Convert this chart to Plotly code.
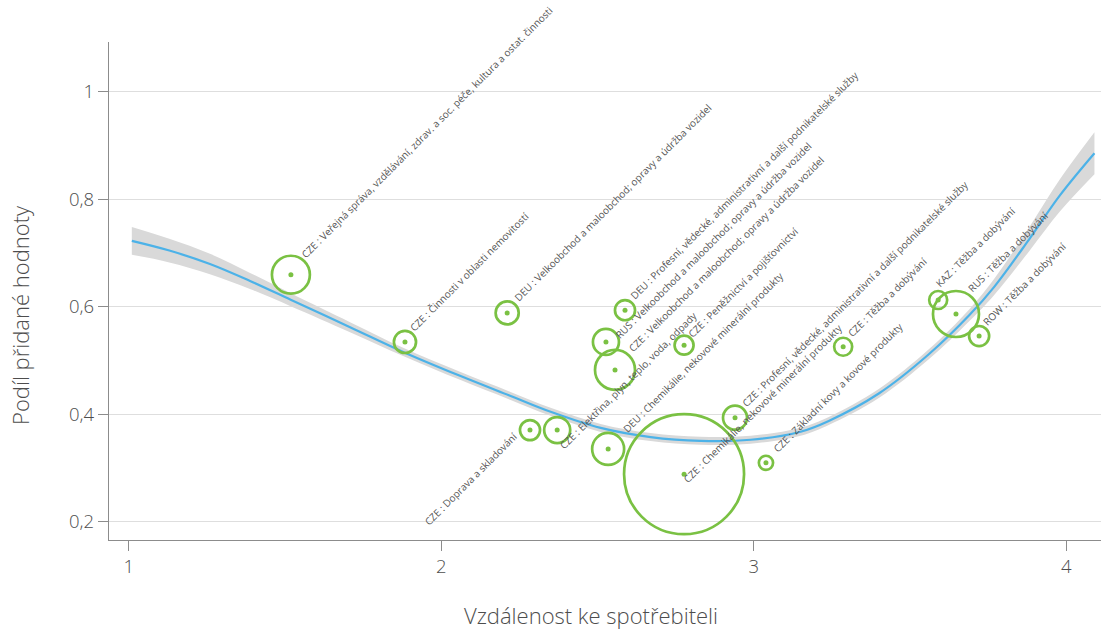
import plotly.graph_objects as go

# --- data -------------------------------------------------------------
regiony = ["CZE", "CZE", "DEU", "DEU", "RUS", "CZE", "CZE", "CZE", "CZE",
           "DEU", "CZE", "CZE", "CZE", "CZE", "KAZ", "RUS", "ROW"]
odvetvi = [
    "Veřejná správa, vzdělávání, zdrav. a soc. péče, kultura a ostat. činnosti",
    "Činnosti v oblasti nemovitostí",
    "Velkoobchod a maloobchod; opravy a údržba vozidel",
    "Profesní, vědecké, administrativní a další podnikatelské služby",
    "Velkoobchod a maloobchod; opravy a údržba vozidel",
    "Velkoobchod a maloobchod; opravy a údržba vozidel",
    "Peněžnictví a pojišťovnictví",
    "Elektřina, plyn, teplo, voda, odpady",
    "Doprava a skladování",
    "Chemikálie, nekovové minerální produkty",
    "Chemikálie, nekovové minerální produkty",
    "Profesní, vědecké, administrativní a další podnikatelské služby",
    "Základní kovy a kovové produkty",
    "Těžba a dobývání",
    "Těžba a dobývání",
    "Těžba a dobývání",
    "Těžba a dobývání",
]
vzdalenost = [1.519, 1.884, 2.211, 2.588, 2.527, 2.556, 2.777, 2.371, 2.284,
              2.534, 2.777, 2.940, 3.039, 3.286, 3.590, 3.647, 3.721]
podil = [0.660, 0.535, 0.589, 0.594, 0.535, 0.483, 0.529, 0.371, 0.371,
         0.336, 0.289, 0.394, 0.310, 0.526, 0.613, 0.587, 0.546]
vaha = [10.0, 3.4, 3.7, 2.8, 4.7, 11.1, 2.5, 4.7, 2.8,
        7.1, 100.0, 4.0, 1.4, 2.25, 2.25, 14.7, 2.8]

# smoothed trend with its confidence band
trend_x = [1.01, 1.13, 1.26, 1.39, 1.52, 1.71, 1.88, 2.06, 2.22, 2.35, 2.51,
           2.67, 2.83, 2.99, 3.15, 3.24, 3.40, 3.56, 3.69, 3.77, 3.88, 3.98, 4.09]
trend_y = [0.723, 0.705, 0.680, 0.648, 0.613, 0.562, 0.516, 0.472, 0.435,
           0.405, 0.375, 0.358, 0.351, 0.353, 0.368, 0.388, 0.439, 0.512,
           0.585, 0.638, 0.725, 0.808, 0.886]
trend_se = [0.026, 0.022, 0.019, 0.015, 0.012, 0.0093, 0.0075, 0.0075, 0.0075,
            0.0075, 0.0075, 0.0075, 0.0075, 0.0075, 0.0075, 0.0075, 0.0084,
            0.0093, 0.011, 0.015, 0.022, 0.030, 0.039]

y_ticks = [0.2, 0.4, 0.6, 0.8, 1.0]
x_ticks = [1, 2, 3, 4]

# --- styling ----------------------------------------------------------
FONT = "Open Sans"
GREEN = "#7ac143"
BLUE = "#4cb2e8"
BAND = "#d9d9d9"
TEXT = "#4d4d4d"
LABEL_COLOR = "#555555"
LABEL_FS = 10.0

# label placement: screen offset (px) from bubble centre to the text start,
# "end" labels are placed by their text end instead
label_offsets = [(15, -16, "start"), (10, -10, "start"), (11, -11, "start"),
                 (10, -10, "start"), (14, -3, "start"), (18, -17, "start"),
                 (9, -7, "start"), (7, 20, "start"), (-12, 7, "end"),
                 (19, -16, "start"), (4, 9, "start"), (12, -10, "start"),
                 (12, -10, "start"), (9, -9, "start"), (2, -12, "start"),
                 (16, -21, "start"), (8, -10, "start")]

lower = [m - s for m, s in zip(trend_y, trend_se)]
upper = [m + s for m, s in zip(trend_y, trend_se)]

fig = go.Figure()
fig.add_trace(go.Scatter(x=trend_x, y=lower, mode="lines", line=dict(width=0, shape="spline"),
                         hoverinfo="skip", showlegend=False))
fig.add_trace(go.Scatter(x=trend_x, y=upper, mode="lines", line=dict(width=0, shape="spline"),
                         fill="tonexty", fillcolor=BAND, hoverinfo="skip", showlegend=False))
fig.add_trace(go.Scatter(x=trend_x, y=trend_y, mode="lines",
                         line=dict(color=BLUE, width=2.2, shape="spline"),
                         hoverinfo="skip", showlegend=False))

popisky = [f"{r} : {o}" for r, o in zip(regiony, odvetvi)]

fig.add_trace(go.Scatter(
    x=vzdalenost, y=podil, mode="markers", text=popisky, showlegend=False,
    marker=dict(size=vaha, sizemode="area", sizeref=2 * 100 / 120 ** 2, opacity=1,
                color="rgba(0,0,0,0)", line=dict(color=GREEN, width=2.7)),
))
fig.add_trace(go.Scatter(
    x=vzdalenost, y=podil, mode="markers", hoverinfo="skip", showlegend=False,
    marker=dict(size=5, color=GREEN, opacity=1, line=dict(width=0)),
))

asc = 1.069 * LABEL_FS
desc = 0.293 * LABEL_FS
k = 0.7071
for xv, yv, txt, (dx, dy, mode) in zip(vzdalenost, podil, popisky, label_offsets):
    if mode == "start":
        xs, ys, xa, ya = dx - k * asc, -(dy + k * desc), "left", "bottom"
    else:
        xs, ys, xa, ya = dx + k * desc, -(dy - k * asc), "right", "top"
    fig.add_annotation(x=xv, y=yv, text=txt, showarrow=False, textangle=-45,
                       xanchor=xa, yanchor=ya, xshift=xs, yshift=ys,
                       borderpad=0, borderwidth=0,
                       font=dict(family=FONT, size=LABEL_FS, color=LABEL_COLOR, weight=400))

# axis titles
fig.add_annotation(xref="paper", yref="paper", x=0.486, y=-0.151,
                   text="Vzdálenost ke spotřebiteli", showarrow=False,
                   xanchor="center", yanchor="middle",
                   font=dict(family=FONT, size=22, color=TEXT, weight=300))
fig.add_annotation(xref="paper", yref="paper", x=-0.0897, y=0.452,
                   text="Podíl přidané hodnoty", showarrow=False, textangle=-90,
                   xanchor="center", yanchor="middle",
                   font=dict(family=FONT, size=22, color=TEXT, weight=300))

axis_common = dict(showline=True, linecolor="#8c8c8c", linewidth=1.3,
                   ticks="outside", ticklen=10, tickcolor="#8c8c8c", tickwidth=1.3,
                   tickfont=dict(family=FONT, size=18.5, color=TEXT, weight=300),
                   zeroline=False)

fig.update_layout(
    width=1101, height=631,
    margin=dict(l=109, r=0, t=42, b=91),
    paper_bgcolor="white", plot_bgcolor="white",
    separators=", ",
    showlegend=False,
    xaxis=dict(range=[0.937, 4.111], tickvals=x_ticks, showgrid=False, **axis_common),
    yaxis=dict(range=[0.1665, 1.093], tickvals=y_ticks, showgrid=True,
               gridcolor="#dedede", gridwidth=1.2, **axis_common),
)

fig.write_html("out.html")
